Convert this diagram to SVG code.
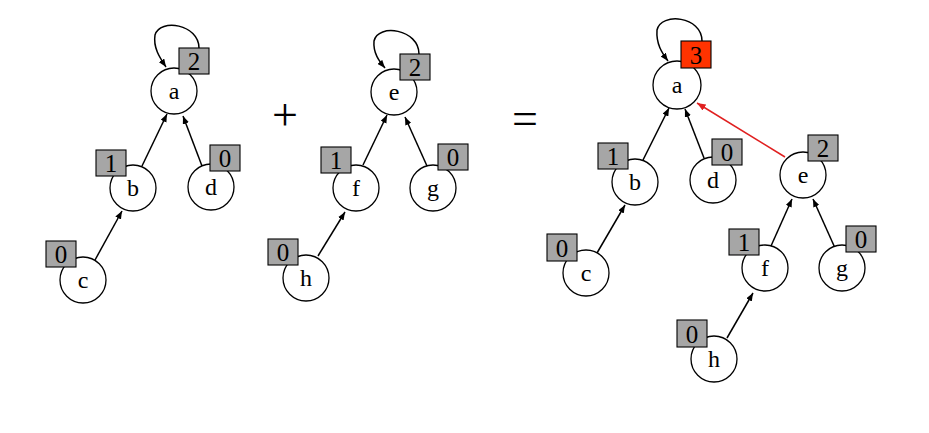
<svg xmlns="http://www.w3.org/2000/svg" width="929" height="433" viewBox="0 0 929 433">
<defs>
<style>
.n{fill:#fff;stroke:#000;stroke-width:1.3}
.b{fill:#a6a6a6;stroke:#000;stroke-width:1.1}
.r{fill:#ff3300;stroke:#000;stroke-width:1.1}
.l{font-family:"Liberation Serif","Times New Roman",serif;font-size:24px;text-anchor:middle;fill:#000}
.k{font-family:"Liberation Serif","Times New Roman",serif;font-size:25px;text-anchor:middle;fill:#000}
.e{fill:none;stroke:#000;stroke-width:1.5;marker-end:url(#ah)}
.er{fill:none;stroke:#e02020;stroke-width:1.5;marker-end:url(#ahr)}
</style>
<marker id="ah" viewBox="0 0 10 8" refX="10" refY="4" markerWidth="8" markerHeight="6.5" markerUnits="userSpaceOnUse" orient="auto"><path d="M0,0 L10,4 L0,8 z" fill="#000"/></marker>
<marker id="ahr" viewBox="0 0 10 8" refX="10" refY="4" markerWidth="9" markerHeight="7" markerUnits="userSpaceOnUse" orient="auto"><path d="M0,0 L10,4 L0,8 z" fill="#e02020"/></marker>
</defs>
<rect width="929" height="433" fill="#fff"/>
<g id="connectors">
<path class="e" d="M199,48 C199,24 160,18 155,35 C153,48 160,58 166,67"/>
<path class="e" d="M142,166 L167,114"/>
<path class="e" d="M202,166 L183,116"/>
<path class="e" d="M95,260 L122,211"/>
<path class="e" d="M419,54 C419,29 378,23 374,41 C373,53 379,61 385,68"/>
<path class="e" d="M363,165 L387,115"/>
<path class="e" d="M427,166 L405,117"/>
<path class="e" d="M318,256 L345,212"/>
<path class="e" d="M702,41 C702,16 661,12 657,30 C656,44 662,53 668,61"/>
<path class="e" d="M643,160 L669,108"/>
<path class="e" d="M704,158 L685,109"/>
<path class="e" d="M597,253 L625,205"/>
<path class="er" d="M785,157 L697,103"/>
<path class="e" d="M771,246 L792,199"/>
<path class="e" d="M835,248 L813,199"/>
<path class="e" d="M727,338 L753,293"/>
</g>
<g id="L-a"><circle class="n" cx="174" cy="91" r="23"/><text class="l" x="174" y="99">a</text><rect class="b" x="179" y="48" width="30" height="26"/><text class="k" x="194" y="70">2</text></g>
<g id="L-b"><circle class="n" cx="133" cy="188" r="23"/><text class="l" x="133" y="196">b</text><rect class="b" x="96" y="150" width="30" height="26"/><text class="k" x="111" y="172">1</text></g>
<g id="L-d"><circle class="n" cx="211" cy="187" r="23"/><text class="l" x="211" y="195">d</text><rect class="b" x="210" y="145" width="30" height="26"/><text class="k" x="225" y="167">0</text></g>
<g id="L-c"><circle class="n" cx="83" cy="280" r="23"/><text class="l" x="83" y="288">c</text><rect class="b" x="46" y="241" width="30" height="26"/><text class="k" x="61" y="263">0</text></g>
<text id="plus" class="l" x="285" y="130" style="font-size:46px">+</text>
<g id="M-e"><circle class="n" cx="394" cy="92" r="23"/><text class="l" x="394" y="100">e</text><rect class="b" x="400" y="54" width="30" height="26"/><text class="k" x="415" y="76">2</text></g>
<g id="M-f"><circle class="n" cx="356" cy="188" r="23"/><text class="l" x="356" y="196">f</text><rect class="b" x="321" y="147" width="30" height="26"/><text class="k" x="336" y="169">1</text></g>
<g id="M-g"><circle class="n" cx="433" cy="188" r="23"/><text class="l" x="433" y="196">g</text><rect class="b" x="438" y="144" width="30" height="26"/><text class="k" x="453" y="166">0</text></g>
<g id="M-h"><circle class="n" cx="306" cy="278" r="23"/><text class="l" x="306" y="286">h</text><rect class="b" x="268" y="239" width="30" height="26"/><text class="k" x="283" y="261">0</text></g>
<text id="equals" class="l" x="525" y="134" style="font-size:46px">=</text>
<g id="R-a"><circle class="n" cx="677" cy="85" r="24"/><text class="l" x="677" y="93">a</text><rect class="r" x="681" y="41" width="30" height="27"/><text class="k" x="696" y="64">3</text></g>
<g id="R-b"><circle class="n" cx="635" cy="182" r="23"/><text class="l" x="635" y="190">b</text><rect class="b" x="598" y="143" width="30" height="26"/><text class="k" x="613" y="165">1</text></g>
<g id="R-d"><circle class="n" cx="713" cy="180" r="23"/><text class="l" x="713" y="188">d</text><rect class="b" x="712" y="139" width="30" height="26"/><text class="k" x="727" y="161">0</text></g>
<g id="R-e"><circle class="n" cx="803" cy="175" r="23"/><text class="l" x="803" y="183">e</text><rect class="b" x="808" y="135" width="30" height="26"/><text class="k" x="823" y="157">2</text></g>
<g id="R-c"><circle class="n" cx="586" cy="273" r="23"/><text class="l" x="586" y="281">c</text><rect class="b" x="547" y="234" width="30" height="27"/><text class="k" x="562" y="257">0</text></g>
<g id="R-f"><circle class="n" cx="765" cy="268" r="23"/><text class="l" x="765" y="276">f</text><rect class="b" x="729" y="229" width="30" height="26"/><text class="k" x="744" y="251">1</text></g>
<g id="R-g"><circle class="n" cx="842" cy="268" r="23"/><text class="l" x="842" y="276">g</text><rect class="b" x="846" y="226" width="30" height="26"/><text class="k" x="861" y="248">0</text></g>
<g id="R-h"><circle class="n" cx="714" cy="359" r="23"/><text class="l" x="714" y="367">h</text><rect class="b" x="677" y="320" width="30" height="27"/><text class="k" x="692" y="343">0</text></g>
</svg>
